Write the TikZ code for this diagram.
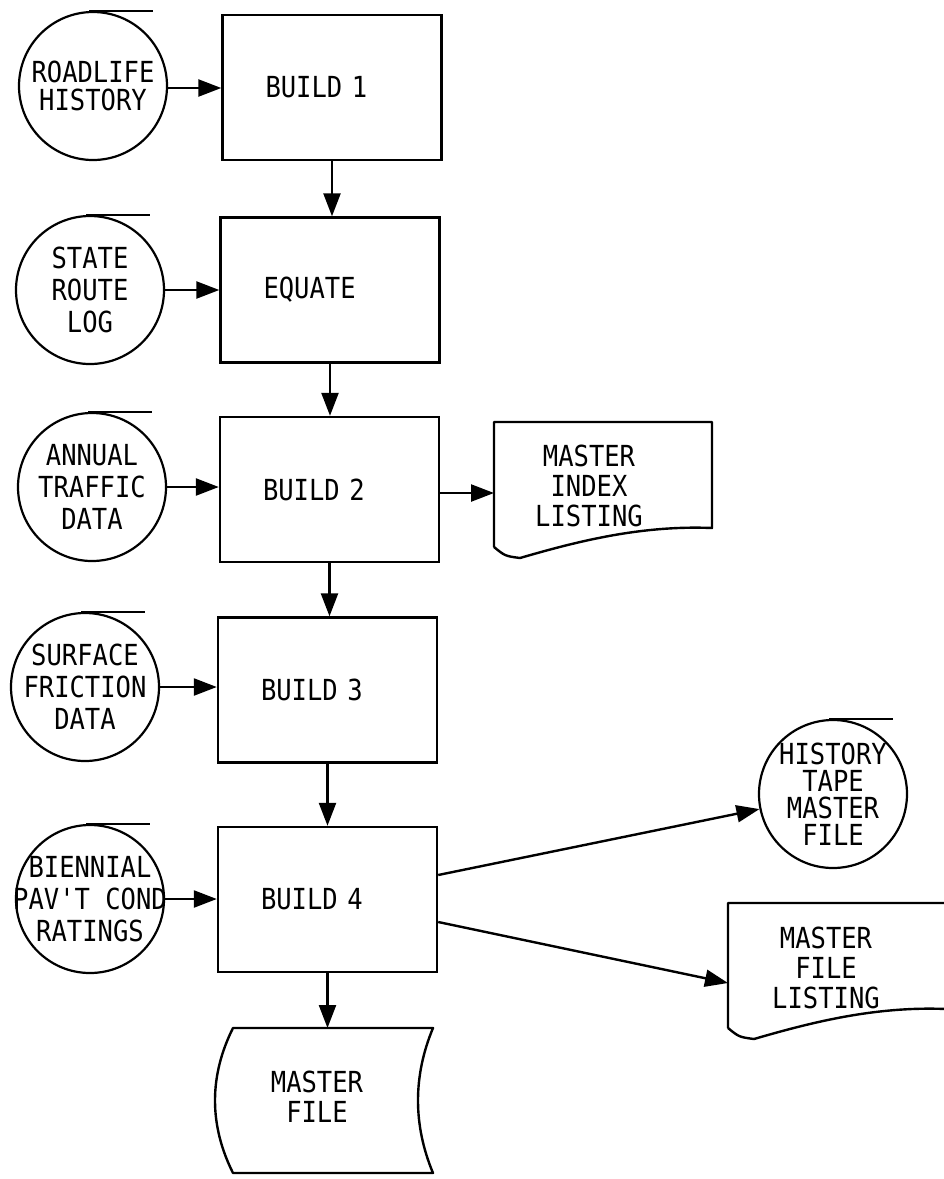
\documentclass[tikz,border=0pt]{standalone}
\usepackage{fontspec}
\newfontfamily\flowfont{DejaVu Sans Mono}[FakeStretch=0.88]
\usetikzlibrary{arrows.meta}

\tikzset{
  procbox/.style={draw, line width=2.4pt, minimum height=145pt, text width=133pt,
    inner xsep=43pt, align=left, font=\flowfont\fontsize{29}{32}\selectfont},
  tape/.style={draw, circle, line width=2.2pt, minimum size=148pt, inner sep=-20pt,
    align=center, font=\flowfont\fontsize{29}{32}\selectfont},
  doctext/.style={inner sep=0pt, align=center, font=\flowfont\fontsize{29}{30}\selectfont},
  doc/.style={line width=2.4pt, line join=round},
  flow/.style={line width=2.4pt, -{Triangle[length=23pt,width=17pt]}},
}

\begin{document}
\begin{tikzpicture}[x=1pt,y=-1pt]
\useasboundingbox (0,0) rectangle (944,1179);

% processing steps
\node[procbox] (b1) at (332,87.5) {BUILD 1};
\node[procbox] (eq) at (330,290) {EQUATE};
\node[procbox] (b2) at (329.5,489.5) {BUILD 2};
\node[procbox] (b3) at (327.5,690) {BUILD 3};
\node[procbox] (b4) at (327.5,899.5) {BUILD 4};

% input tapes
\node[tape, font=\flowfont\fontsize{29}{28}\selectfont] (rl) at (93,86) {ROADLIFE\\HISTORY};
\node[tape] (sr) at (90,290) {STATE\\ROUTE\\LOG};
\node[tape] (at) at (92,487) {ANNUAL\\TRAFFIC\\DATA};
\node[tape] (sf) at (85,687) {SURFACE\\FRICTION\\DATA};
\node[tape] (bp) at (90,899) {BIENNIAL\\PAV'T COND\\RATINGS};

% output tape
\node[tape, font=\flowfont\fontsize{29}{27}\selectfont] (ht) at (833,794) {HISTORY\\TAPE\\MASTER\\FILE};

\foreach \t in {rl,sr,at,sf,bp,ht}
  \draw[line width=2.2pt] (\t.north) ++(-4,0) -- ++(64,0);

% listings
\draw[doc] (494,547) -- (494,422) -- (712,422) -- (712,528)
  .. controls (640,525) and (575,542) .. (520,558)
  .. controls (505,556) .. (494,547);
\node[doctext] (mil) at (589,486) {MASTER\\INDEX\\LISTING};
\coordinate (milin) at (494,493);

\draw[doc] (728,1028) -- (728,903) -- (946,903) -- (946,1009)
  .. controls (874,1006) and (809,1023) .. (754,1039)
  .. controls (739,1037) .. (728,1028);
\node[doctext] (mfl) at (826,968) {MASTER\\FILE\\LISTING};
\coordinate (mflin) at (728,983);

% master file
\draw[doc] (233,1028) -- (433,1028) .. controls (413,1076) and (413,1125) .. (433,1173)
  -- (233,1173) .. controls (209,1125) and (209,1076) .. (233,1028) -- cycle;
\node[doctext] (mf) at (317,1097) {MASTER\\FILE};
\coordinate (mfin) at (327.5,1028);

% flows
\draw[flow] (rl.east |- 0,88) -- (b1.west |- 0,88);
\draw[flow] (sr.east) -- (sr.east -| eq.west);
\draw[flow] (at.east) -- (at.east -| b2.west);
\draw[flow] (sf.east) -- (sf.east -| b3.west);
\draw[flow] (bp.east) -- (bp.east -| b4.west);

\draw[flow] (b1.south) -- (b1.south |- eq.north);
\draw[flow] (eq.south) -- (eq.south |- b2.north);
\draw[flow] (b2.south) -- (b2.south |- b3.north);
\draw[flow] (b3.south) -- (b3.south |- b4.north);
\draw[flow] (b4.south) -- (mfin);

\draw[flow] ([yshift=-3.5pt]b2.east) -- (milin);
\draw[flow] ([yshift=24.5pt]b4.east) -- (ht);
\draw[flow] ([yshift=-22.5pt]b4.east) -- (mflin);

\end{tikzpicture}
\end{document}
